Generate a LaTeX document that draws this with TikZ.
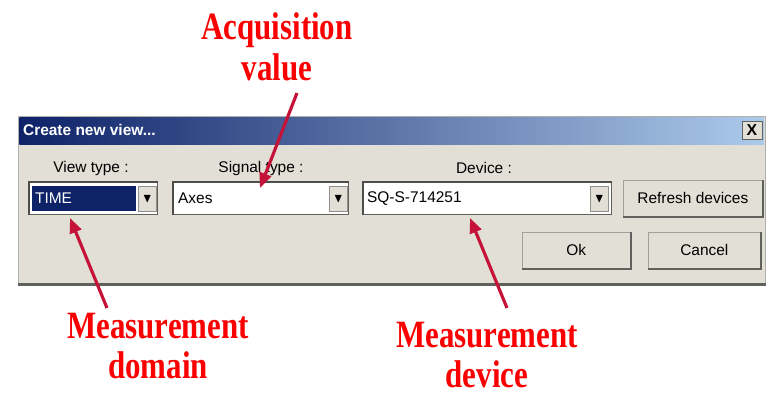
\documentclass[tikz,border=0pt]{standalone}
\usepackage{fontspec}
\usepackage{amssymb}
\usetikzlibrary{arrows.meta,positioning}

\newfontfamily\uifont{Liberation Sans}
\newfontfamily\calloutfont[FakeStretch=0.8]{Liberation Serif}

\definecolor{winbody}{RGB}{226,223,214}
\definecolor{winnavy}{RGB}{14,34,104}
\definecolor{winsky}{RGB}{172,202,234}
\definecolor{winedge}{RGB}{96,96,92}
\definecolor{calloutred}{RGB}{250,0,0}
\definecolor{arrowred}{RGB}{196,18,56}

\begin{document}
\begin{tikzpicture}[
  x=0.02cm, y=-0.02cm,
  ui/.style={font=\uifont\fontsize{8.8}{10}\selectfont},
  field/.style={draw=winedge, fill=white, line width=0.8pt, anchor=north west,
    minimum height=0.64cm, inner sep=0pt},
  dropbtn/.style={draw=winedge!70, fill=winbody, anchor=north west,
    minimum width=0.36cm, minimum height=0.5cm, inner sep=0pt, font=\scriptsize},
  button/.style={ui, draw=winedge!60, fill=winbody, anchor=north west,
    minimum height=0.72cm, inner sep=0pt},
  callout/.style={font=\calloutfont\bfseries\fontsize{22}{23.2}\selectfont,
    text=calloutred, align=center},
  pointer/.style={draw=arrowred, line width=1.8pt,
    -{Triangle[length=0.3cm,width=0.24cm]}},
]
  \fill[white] (0,0) rectangle (767,394);
  \useasboundingbox (0,0) rectangle (767,394);

  % dialog window
  \node[draw=winedge!50, fill=winbody, anchor=north west, minimum width=14.94cm,
    minimum height=3.36cm, inner sep=0pt] (dialog) at (18,116) {};
  \draw[winedge, line width=1.5pt] (dialog.south west) -- (dialog.south east);
  \node[anchor=north west, left color=winnavy, right color=winsky,
    minimum width=14.9cm, minimum height=0.54cm, inner sep=0pt] (titlebar) at (19,117) {};
  \node[ui, text=white, anchor=west, inner sep=1pt] (title) at (21,130) {\bfseries Create new view...};
  \node[draw=winedge, fill=winbody, minimum width=0.4cm, minimum height=0.36cm,
    inner sep=0pt, font=\uifont\bfseries\small] (close) at (752,130) {X};

  \node[ui] (viewlbl) at (91,169) {View type :};
  \node[ui] (siglbl) at (261,169) {Signal type :};
  \node[ui] (devlbl) at (484,168) {Device :};

  % combo boxes
  \node[field, minimum width=2.56cm] (timebox) at (29,182) {};
  \node[field, minimum width=3.5cm] (axesbox) at (173,182) {};
  \node[field, minimum width=4.96cm] (devbox) at (363,182) {};
  \foreach \f in {timebox,axesbox,devbox}
    \draw[winedge!80!black, line width=1.2pt] (\f.south west) -- (\f.north west) -- (\f.north east);
  \node[fill=winnavy, anchor=north west, minimum width=2.08cm, minimum height=0.5cm,
    inner sep=0pt] (timesel) at (32,186) {};
  \node[ui, text=white, anchor=west, inner sep=1pt] (timetxt) at (33,198.5) {TIME};
  \node[ui, anchor=west, inner sep=1pt] (axestxt) at (176,198.5) {Axes};
  \node[ui, anchor=west, inner sep=1pt] (devtxt) at (365,198.5) {SQ-S-714251};
  \node[dropbtn] (timedrop) at (138,186) {$\blacktriangledown$};
  \node[dropbtn] (axesdrop) at (329,186) {$\blacktriangledown$};
  \node[dropbtn] (devdrop) at (590,186) {$\blacktriangledown$};

  % buttons
  \node[button, minimum width=2.78cm] (refresh) at (623,180) {Refresh devices};
  \node[button, minimum width=2.16cm] (ok) at (522,232) {Ok};
  \node[button, minimum width=2.24cm] (cancel) at (648,232) {Cancel};
  \foreach \b in {refresh,ok,cancel}
    \draw[winedge, line width=1.2pt] (\b.south west) -- (\b.south east) -- (\b.north east);

  % callouts
  \node[callout] (acq) at (277,47) {Acquisition\\value};
  \node[callout] (domain) at (158,346) {Measurement\\domain};
  \node[callout] (device) at (487,355) {Measurement\\device};

  \coordinate (acqtail) at (297,93);
  \coordinate (acqtip) at (260,188);
  \coordinate (domtail) at (107,308);
  \coordinate (domtip) at (70,218);
  \coordinate (devtail) at (507,308);
  \coordinate (devtip) at (470,218);
  \draw[pointer] (acqtail) -- (acqtip);
  \draw[pointer] (domtail) -- (domtip);
  \draw[pointer] (devtail) -- (devtip);
\end{tikzpicture}
\end{document}
